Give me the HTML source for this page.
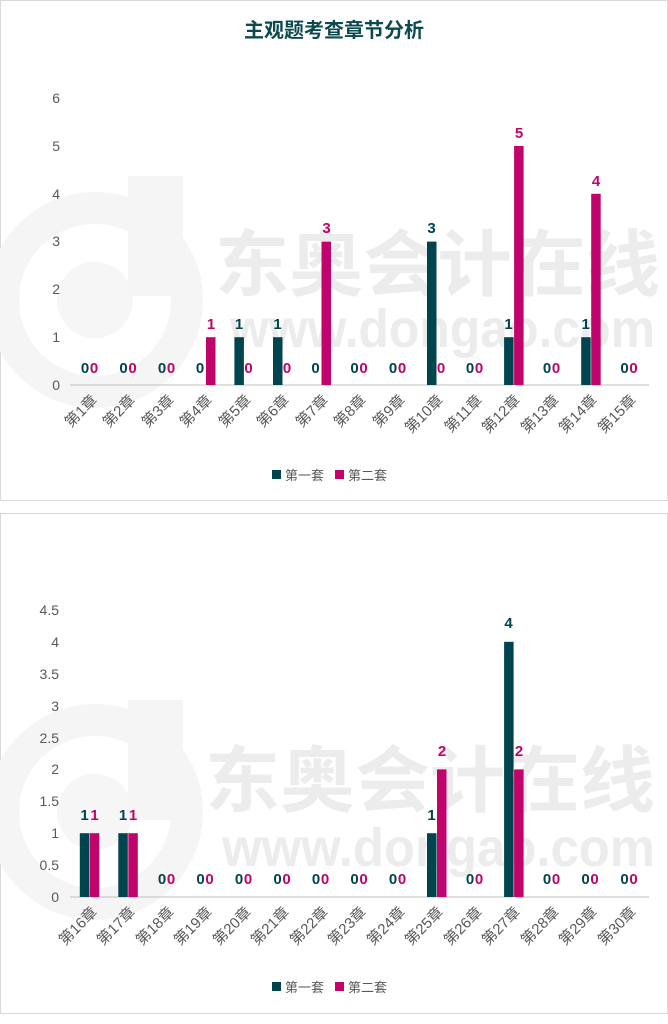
<!DOCTYPE html>
<html><head><meta charset="utf-8"><style>
body{margin:0;background:#fff}
svg{display:block;font-family:"Liberation Sans","Noto Sans CJK SC",sans-serif}
.t{font-size:14px;fill:#595959;text-anchor:end}
.x{font-size:15px;fill:#595959;text-anchor:end}
.d{fill:#00444e}.p{fill:#c0046b}
.ld{font-size:15px;font-weight:bold;fill:#00444e;text-anchor:middle}
.lp{font-size:15px;font-weight:bold;fill:#c0046b;text-anchor:middle}
.wm{fill:#ececec;font-weight:bold}
.lg{font-size:13px;fill:#595959}
</style></head><body>
<svg width="668" height="1024" viewBox="0 0 668 1024">
<rect x="0.5" y="0.5" width="667" height="500" fill="#fff" stroke="#d9d9d9"/>
<rect x="0.5" y="513.5" width="667" height="500" fill="#fff" stroke="#d9d9d9"/>
<g>
<circle cx="95" cy="300" r="92" fill="none" stroke="#f5f5f5" stroke-width="32"/>
<circle cx="95" cy="300" r="38" fill="#f6f6f6"/>
<rect x="128" y="176" width="55" height="120" fill="#f5f5f5"/>
<text class="wm" x="215" y="290" font-size="72" textLength="445" lengthAdjust="spacingAndGlyphs">东奥会计在线</text>
<text class="wm" x="230" y="347" font-size="54" textLength="425" lengthAdjust="spacingAndGlyphs">www.dongao.com</text>
<circle cx="95" cy="812" r="92" fill="none" stroke="#f5f5f5" stroke-width="32"/>
<circle cx="95" cy="812" r="38" fill="#f6f6f6"/>
<rect x="128" y="700" width="55" height="120" fill="#f5f5f5"/>
<text class="wm" x="205" y="806" font-size="72" textLength="450" lengthAdjust="spacingAndGlyphs">东奥会计在线</text>
<text class="wm" x="222" y="866" font-size="54" textLength="433" lengthAdjust="spacingAndGlyphs">www.dongao.com</text>
</g>
<text x="334" y="37" text-anchor="middle" font-size="20" font-weight="bold" fill="#0d4a50">主观题考查章节分析</text>
<g class="t">
<text x="60" y="390">0</text><text x="60" y="342">1</text><text x="60" y="294">2</text><text x="60" y="246">3</text><text x="60" y="199">4</text><text x="60" y="151">5</text><text x="60" y="103">6</text>
</g>
<line x1="70" y1="385" x2="649" y2="385" stroke="#bfbfbf"/>
<rect class="p" x="206" y="337.2" width="9.5" height="47.8"/>
<rect class="d" x="234.4" y="337.2" width="9.5" height="47.8"/>
<rect class="d" x="273" y="337.2" width="9.5" height="47.8"/>
<rect class="p" x="321.5" y="241.6" width="9.5" height="143.4"/>
<rect class="d" x="427" y="241.6" width="9.5" height="143.4"/>
<rect class="d" x="504.1" y="337.2" width="9.5" height="47.8"/>
<rect class="p" x="514.1" y="146" width="9.5" height="239"/>
<rect class="d" x="581.2" y="337.2" width="9.5" height="47.8"/>
<rect class="p" x="591.2" y="193.8" width="9.5" height="191.2"/>
<g>
<text class="ld" x="85" y="373">0</text><text class="lp" x="94" y="373">0</text>
<text class="ld" x="123.5" y="373">0</text><text class="lp" x="132.5" y="373">0</text>
<text class="ld" x="162" y="373">0</text><text class="lp" x="171" y="373">0</text>
<text class="ld" x="200" y="373">0</text><text class="lp" x="211" y="329">1</text>
<text class="ld" x="239" y="329">1</text><text class="lp" x="248.5" y="373">0</text>
<text class="ld" x="277.5" y="329">1</text><text class="lp" x="287" y="373">0</text>
<text class="ld" x="315.5" y="373">0</text><text class="lp" x="326.5" y="233">3</text>
<text class="ld" x="354.5" y="373">0</text><text class="lp" x="363.5" y="373">0</text>
<text class="ld" x="393" y="373">0</text><text class="lp" x="402" y="373">0</text>
<text class="ld" x="431.5" y="233">3</text><text class="lp" x="441" y="373">0</text>
<text class="ld" x="470" y="373">0</text><text class="lp" x="479" y="373">0</text>
<text class="ld" x="508.6" y="329">1</text><text class="lp" x="519" y="138">5</text>
<text class="ld" x="547" y="373">0</text><text class="lp" x="556" y="373">0</text>
<text class="ld" x="585.7" y="329">1</text><text class="lp" x="596" y="186">4</text>
<text class="ld" x="624.5" y="373">0</text><text class="lp" x="633.5" y="373">0</text>
</g>
<g class="x">
<text transform="translate(98,401) rotate(-45)">第1章</text>
<text transform="translate(136,401) rotate(-45)">第2章</text>
<text transform="translate(175,401) rotate(-45)">第3章</text>
<text transform="translate(213,401) rotate(-45)">第4章</text>
<text transform="translate(252,401) rotate(-45)">第5章</text>
<text transform="translate(290,401) rotate(-45)">第6章</text>
<text transform="translate(329,401) rotate(-45)">第7章</text>
<text transform="translate(367,401) rotate(-45)">第8章</text>
<text transform="translate(406,401) rotate(-45)">第9章</text>
<text transform="translate(444,401) rotate(-45)">第10章</text>
<text transform="translate(483,401) rotate(-45)">第11章</text>
<text transform="translate(521,401) rotate(-45)">第12章</text>
<text transform="translate(560,401) rotate(-45)">第13章</text>
<text transform="translate(598,401) rotate(-45)">第14章</text>
<text transform="translate(637,401) rotate(-45)">第15章</text>
</g>
<rect class="d" x="272" y="470" width="9" height="9"/><text class="lg" x="285" y="480">第一套</text>
<rect class="p" x="335" y="470" width="9" height="9"/><text class="lg" x="348" y="480">第二套</text>
<g class="t">
<text x="59" y="902">0</text><text x="59" y="870">0.5</text><text x="59" y="838">1</text><text x="59" y="806">1.5</text><text x="59" y="774">2</text><text x="59" y="743">2.5</text><text x="59" y="711">3</text><text x="59" y="679">3.5</text><text x="59" y="647">4</text><text x="59" y="615">4.5</text>
</g>
<line x1="70" y1="897" x2="649" y2="897" stroke="#bfbfbf"/>
<rect class="d" x="79.8" y="833.2" width="9.5" height="63.8"/>
<rect class="p" x="89.8" y="833.2" width="9.5" height="63.8"/>
<rect class="d" x="118.3" y="833.2" width="9.5" height="63.8"/>
<rect class="p" x="128.3" y="833.2" width="9.5" height="63.8"/>
<rect class="d" x="427" y="833.2" width="9.5" height="63.8"/>
<rect class="p" x="437" y="769.4" width="9.5" height="127.6"/>
<rect class="d" x="504.1" y="641.8" width="9.5" height="255.2"/>
<rect class="p" x="514.1" y="769.4" width="9.5" height="127.6"/>
<g>
<text class="ld" x="84.5" y="820">1</text><text class="lp" x="94.5" y="820">1</text>
<text class="ld" x="123" y="820">1</text><text class="lp" x="133" y="820">1</text>
<text class="ld" x="162" y="884">0</text><text class="lp" x="171" y="884">0</text>
<text class="ld" x="200.5" y="884">0</text><text class="lp" x="209.5" y="884">0</text>
<text class="ld" x="239" y="884">0</text><text class="lp" x="248" y="884">0</text>
<text class="ld" x="277.5" y="884">0</text><text class="lp" x="286.5" y="884">0</text>
<text class="ld" x="316" y="884">0</text><text class="lp" x="325" y="884">0</text>
<text class="ld" x="354.5" y="884">0</text><text class="lp" x="363.5" y="884">0</text>
<text class="ld" x="393" y="884">0</text><text class="lp" x="402" y="884">0</text>
<text class="ld" x="431.5" y="820">1</text><text class="lp" x="442" y="756">2</text>
<text class="ld" x="470" y="884">0</text><text class="lp" x="479" y="884">0</text>
<text class="ld" x="508.6" y="628">4</text><text class="lp" x="519" y="756">2</text>
<text class="ld" x="547" y="884">0</text><text class="lp" x="556" y="884">0</text>
<text class="ld" x="585.5" y="884">0</text><text class="lp" x="594.5" y="884">0</text>
<text class="ld" x="624.5" y="884">0</text><text class="lp" x="633.5" y="884">0</text>
</g>
<g class="x">
<text transform="translate(98,913) rotate(-45)">第16章</text>
<text transform="translate(136,913) rotate(-45)">第17章</text>
<text transform="translate(175,913) rotate(-45)">第18章</text>
<text transform="translate(213,913) rotate(-45)">第19章</text>
<text transform="translate(252,913) rotate(-45)">第20章</text>
<text transform="translate(290,913) rotate(-45)">第21章</text>
<text transform="translate(329,913) rotate(-45)">第22章</text>
<text transform="translate(367,913) rotate(-45)">第23章</text>
<text transform="translate(406,913) rotate(-45)">第24章</text>
<text transform="translate(444,913) rotate(-45)">第25章</text>
<text transform="translate(483,913) rotate(-45)">第26章</text>
<text transform="translate(521,913) rotate(-45)">第27章</text>
<text transform="translate(560,913) rotate(-45)">第28章</text>
<text transform="translate(598,913) rotate(-45)">第29章</text>
<text transform="translate(637,913) rotate(-45)">第30章</text>
</g>
<rect class="d" x="272" y="982" width="9" height="9"/><text class="lg" x="285" y="992">第一套</text>
<rect class="p" x="335" y="982" width="9" height="9"/><text class="lg" x="348" y="992">第二套</text>
</svg>
</body></html>
